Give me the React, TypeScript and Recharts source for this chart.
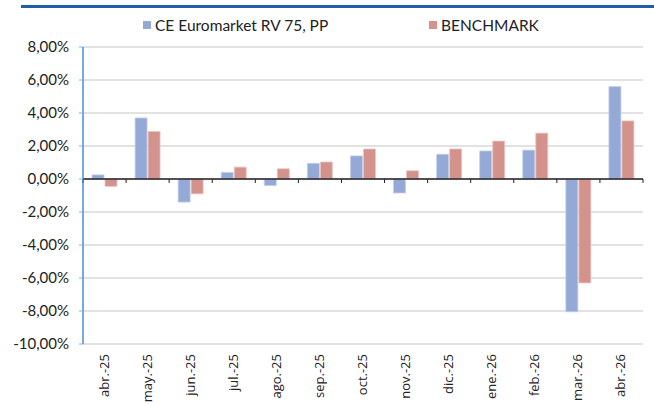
import React from 'react';
import { BarChart, Bar, XAxis, YAxis, CartesianGrid, ReferenceLine } from 'recharts';

const months = ['abr.-25', 'may.-25', 'jun.-25', 'jul.-25', 'ago.-25', 'sep.-25', 'oct.-25', 'nov.-25', 'dic.-25', 'ene.-26', 'feb.-26', 'mar.-26', 'abr.-26'];
const fund = [0.25, 3.7, -1.4, 0.4, -0.4, 0.95, 1.4, -0.85, 1.5, 1.7, 1.75, -8.05, 5.6];
const bench = [-0.45, 2.88, -0.9, 0.72, 0.62, 1.03, 1.82, 0.5, 1.82, 2.3, 2.78, -6.3, 3.52];
const yTicks = [-10, -8, -6, -4, -2, 0, 2, 4, 6, 8];

const FUND_NAME = 'CE Euromarket RV 75, PP';
const BENCH_NAME = 'BENCHMARK';
const BLUE = '#94A9D5';
const RED = '#D4928C';

const data = months.map((m, i) => ({ m, fund: fund[i], bench: bench[i] }));

const fmt = (v: number) => v.toFixed(2).replace('.', ',') + '%';

const MonthTick = (props: any) => {
  const { x, y, payload } = props;
  return (
    <text x={x} y={y} transform={`rotate(-90, ${x}, ${y})`} textAnchor="end" dy={4}
      fontFamily="'Open Sans', sans-serif" fontSize={13} fill="#222">
      {payload.value}
    </text>
  );
};

const ZeroLine = (props: any) => {
  const { x1, y1, x2, y2 } = props;
  const step = (x2 - x1) / months.length;
  return (
    <g>
      <line x1={x1} y1={y1} x2={x2} y2={y2} stroke="#222" strokeWidth={1.3} />
      {months.map((_, i) => (
        <line key={i} x1={x1 + step * i} x2={x1 + step * i} y1={y1} y2={y1 + 4} stroke="#222" strokeWidth={1} />
      ))}
      <line x1={x2} x2={x2} y1={y1} y2={y1 + 4} stroke="#222" strokeWidth={1} />
    </g>
  );
};

const LegendBox = () => (
  <div style={{ position: 'absolute', left: 0, top: 16, width: 654, height: 20, fontFamily: 'Lato, sans-serif', fontSize: 15.5, color: '#222' }}>
    <span style={{ position: 'absolute', left: 143, top: 0, display: 'flex', alignItems: 'center', whiteSpace: 'nowrap' }}>
      <span style={{ width: 8, height: 8, background: BLUE, marginRight: 4 }} />{FUND_NAME}
    </span>
    <span style={{ position: 'absolute', left: 429, top: 0, display: 'flex', alignItems: 'center', whiteSpace: 'nowrap' }}>
      <span style={{ width: 8, height: 8, background: RED, marginRight: 4 }} />{BENCH_NAME}
    </span>
  </div>
);

export default function App() {
  return (
    <div style={{ position: 'absolute', left: 0, top: 0, width: 654, height: 405, background: '#fff' }}>
      <div style={{ position: 'absolute', left: 21, top: 5, width: 633, height: 3, background: '#1F5FA6' }} />
      <LegendBox />
      <BarChart width={654} height={405} data={data} margin={{ top: 47, right: 11, left: 0, bottom: 0 }}
        barGap={1} barSize={12}>
        <CartesianGrid vertical={false} stroke="#D9D9D9" strokeWidth={1.5} />
        <XAxis dataKey="m" height={61} axisLine={false} tickLine={false} tick={<MonthTick />} interval={0} tickMargin={4} />
        <YAxis domain={[-10, 8]} ticks={yTicks} tickFormatter={fmt} width={83} interval={0}
          axisLine={{ stroke: '#2E7BD6', strokeWidth: 1.3 }} tickLine={{ stroke: '#7FB0E8' }} tickSize={4} tickMargin={10}
          tick={{ fontFamily: 'Lato, sans-serif', fontSize: 15, fill: '#222' }} />
        <Bar dataKey="fund" name={FUND_NAME} fill={BLUE} stroke="#C4D0EA" strokeWidth={0.8} isAnimationActive={false} />
        <Bar dataKey="bench" name={BENCH_NAME} fill={RED} stroke="#EBC5C1" strokeWidth={0.8} isAnimationActive={false} />
        <ReferenceLine y={0} shape={<ZeroLine />} ifOverflow="extendDomain" />
      </BarChart>
    </div>
  );
}
